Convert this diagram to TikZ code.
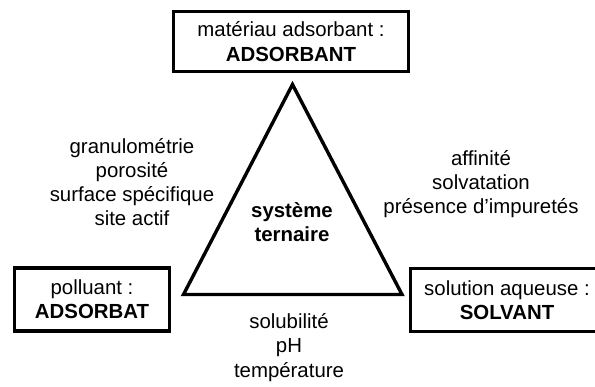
\documentclass[tikz,border=0pt]{standalone}
\usepackage{fontspec}
\setmainfont{Liberation Sans}
\newcommand\lblfont{\fontsize{20.4}{24.2}\selectfont}
\begin{document}
\begin{tikzpicture}[x=1pt,y=-1pt,
  box/.style={draw, line width=3.2pt, inner sep=0pt, align=center, font=\lblfont},
  lbl/.style={inner sep=0pt, align=center, font=\lblfont},
  tri/.style={draw, line width=3.4pt, line join=miter}]
\clip (0,0) rectangle (595,387);
% boxes
\node[box, minimum width=234.8pt, minimum height=59.8pt] (top) at (291,41.5)
  {matériau adsorbant :\\\textbf{ADSORBANT}};
\node[box, minimum width=154.8pt, minimum height=63pt] (left) at (92,299.5)
  {polluant :\\\textbf{ADSORBAT}};
\node[box, minimum width=192.8pt, minimum height=63pt] (right) at (507,300)
  {solution aqueuse :\\\textbf{SOLVANT}};
% triangle
\coordinate (apex) at (292.5,84.5);
\coordinate (bl) at (183.5,294.5);
\coordinate (br) at (402,294.5);
\draw[tri] (apex) -- (bl) -- (br) -- cycle;
% texts
\node[lbl, font=\lblfont\bfseries] (center) at (292,222) {système\\ternaire};
\node[lbl] (lefttxt) at (132,182) {granulométrie\\porosité\\surface spécifique\\site actif};
\node[lbl] (righttxt) at (481,184) {affinité\\solvatation\\présence d'impuretés};
\node[lbl] (bottomtxt) at (289,347.5) {solubilité\\pH\\température};
\end{tikzpicture}
\end{document}
